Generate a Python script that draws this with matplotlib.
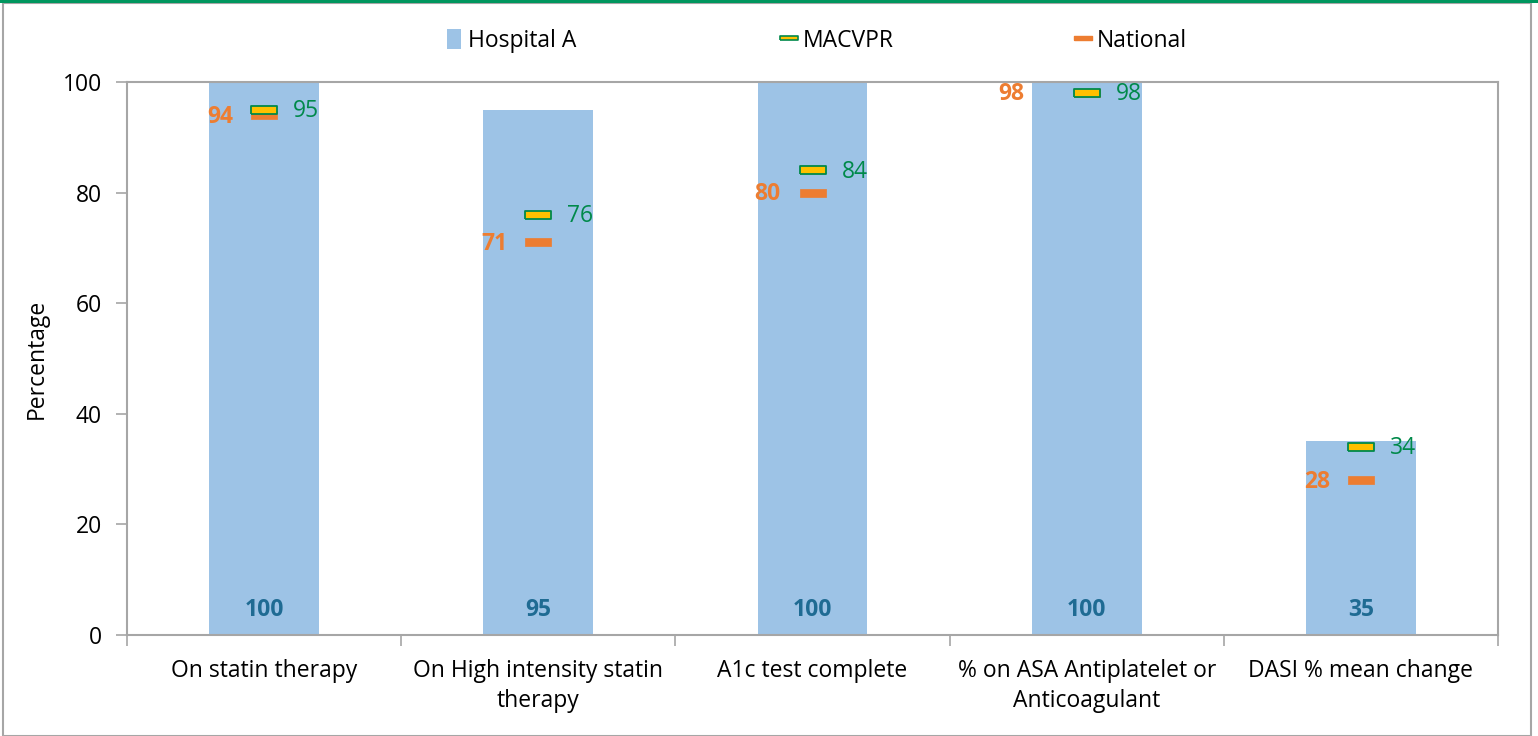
import matplotlib
matplotlib.use("Agg")
import matplotlib.pyplot as plt
from matplotlib.patches import Rectangle
from matplotlib.lines import Line2D

categories = ["On statin therapy", "On High intensity statin\ntherapy", "A1c test complete",
              "% on ASA Antiplatelet or\nAnticoagulant", "DASI % mean change"]
hospital = [100, 95, 100, 100, 35]
macvpr = [95, 76, 84, 98, 34]
national = [94, 71, 80, 98, 28]
yticks = [0, 20, 40, 60, 80, 100]

BAR = "#9DC3E6"
ORANGE = "#ED7D31"
YELLOW = "#FFC000"
GREEN = "#00894A"
HOSP_LBL = "#1F6B93"
GRAY = "#A6A6A6"
FS = 16.5
# horizontal offsets (points) of the National value labels
nat_dx = [-22, -22, -23, -45, -22]

plt.rcParams["font.family"] = ["Open Sans", "DejaVu Sans"]

W, H = 1538, 736
fig = plt.figure(figsize=(W / 100, H / 100), dpi=100)
ax = fig.add_axes([127 / W, 1 - 635 / H, (1498 - 127) / W, (635 - 82) / H])

x = list(range(len(categories)))
ax.bar(x, hospital, width=0.4, color=BAR, zorder=1)

rect = [(-1, -0.27), (1, -0.27), (1, 0.27), (-1, 0.27), (-1, -0.27)]
ax.plot(x, national, linestyle="none", marker=rect, markersize=19,
        markerfacecolor=ORANGE, markeredgecolor=ORANGE, markeredgewidth=0.5, zorder=3)
ax.plot(x, macvpr, linestyle="none", marker=rect, markersize=19,
        markerfacecolor=YELLOW, markeredgecolor=GREEN, markeredgewidth=1.3, zorder=4)

for i in x:
    ax.annotate(f"{national[i]}", (i, national[i]), xytext=(nat_dx[i], -1), textcoords="offset points",
                ha="right", va="center", color=ORANGE, fontsize=FS, fontweight="bold")
    ax.annotate(f"{macvpr[i]}", (i, macvpr[i]), xytext=(21, -1), textcoords="offset points",
                ha="left", va="center", color=GREEN, fontsize=FS)
    ax.text(i, 4.6, f"{hospital[i]}", ha="center", va="center", color=HOSP_LBL,
            fontsize=FS, fontweight="bold")

ax.set_xlim(-0.5, len(categories) - 0.5)
ax.set_ylim(0, 100)
ax.set_yticks(yticks)
ax.set_yticklabels([str(v) for v in yticks], fontsize=FS)
ax.set_xticks(x)
ax.set_xticklabels(categories, fontsize=FS, linespacing=1.35)
ax.tick_params(axis="x", length=0, pad=17)
ax.set_xticks([i - 0.5 for i in range(len(categories) + 1)], minor=True)
ax.tick_params(axis="x", which="minor", length=8, color=GRAY, width=1.2)
ax.tick_params(axis="y", length=8, color=GRAY, width=1.2, pad=10)
for s in ax.spines.values():
    s.set_color(GRAY)
    s.set_linewidth(1.5)
ax.set_ylabel("Percentage", fontsize=FS, labelpad=10)

# legend entries
handles = [
    (Rectangle((0, 0), 1, 1, facecolor=BAR, edgecolor="none"), "Hospital A", 447),
    (Line2D([], [], linestyle="none", marker=rect, markersize=13, markerfacecolor=YELLOW,
            markeredgecolor=GREEN, markeredgewidth=1.2), "MACVPR", 782),
    (Line2D([], [], linestyle="none", marker=rect, markersize=13, markerfacecolor=ORANGE,
            markeredgecolor=ORANGE), "National", 1076),
]
for h, lbl, px in handles:
    fig.legend([h], [lbl], loc="center left", bbox_to_anchor=(px / W, 1 - 41 / H),
               frameon=False, fontsize=FS, handlelength=0.6, handleheight=1.0,
               handletextpad=0.3, borderpad=0, borderaxespad=0)

# figure frame
fig.patches.append(Rectangle((3 / W, 0), (1531 - 3) / W, 1 - 3 / H, transform=fig.transFigure,
                             fill=False, edgecolor=GRAY, linewidth=1.5))
fig.patches.append(Rectangle((0, 1 - 3 / H), 1, 3 / H, transform=fig.transFigure,
                             facecolor="#00965E", edgecolor="none"))

fig.savefig("out.png", dpi=100)
